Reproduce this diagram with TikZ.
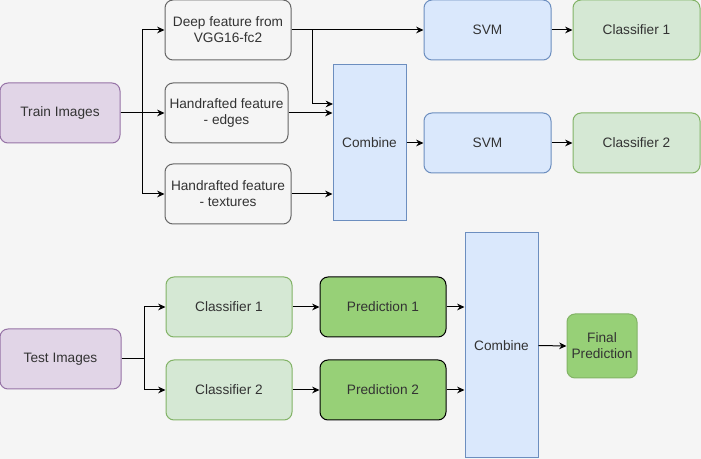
\documentclass[tikz,border=0pt]{standalone}
\usepackage{fontspec}
\setmainfont{Liberation Sans}
\usetikzlibrary{arrows.meta}
\definecolor{bgc}{HTML}{F5F5F5}
\definecolor{purpf}{HTML}{E1D5E7}
\definecolor{purpd}{HTML}{9673A6}
\definecolor{bluef}{HTML}{DAE8FC}
\definecolor{blued}{HTML}{6C8EBF}
\definecolor{greenf}{HTML}{D5E8D4}
\definecolor{greend}{HTML}{82B366}
\definecolor{predf}{HTML}{97D077}
\definecolor{grayd}{HTML}{666666}
\definecolor{txt}{HTML}{333333}
\begin{document}
\begin{tikzpicture}[x=0.75pt,y=-0.75pt,line width=0.75pt,
    font=\fontsize{10.25}{12}\selectfont,text=txt,
    box/.style={draw,rounded corners=6pt,align=center,inner sep=0pt,minimum height=45pt},
    imgbox/.style={box,fill=purpf,draw=purpd,minimum width=90pt},
    featbox/.style={box,fill=bgc,draw=grayd},
    svmbox/.style={box,fill=bluef,draw=blued,minimum width=95.25pt},
    clsbox/.style={box,fill=greenf,draw=greend,minimum width=95.25pt},
    predbox/.style={box,fill=predf,draw=black,minimum width=94.5pt},
    combbox/.style={draw=blued,fill=bluef,minimum width=54.75pt,inner sep=0pt},
    arr/.style={-{Stealth[length=5.5pt,width=5pt]}}]
    \fill[bgc] (0,0) rectangle (701,459);
    \useasboundingbox (0,0) rectangle (701,459);
    %% training
    \node[imgbox] (train) at (60,113) {Train Images};
    \node[featbox,minimum width=94.5pt] (deep) at (228,30) {Deep feature from\\VGG16-fc2};
    \node[featbox,minimum width=92.25pt] (edges) at (226.5,113) {Handrafted feature\\- edges};
    \node[featbox,minimum width=94.5pt] (tex) at (228,194) {Handrafted feature\\- textures};
    \node[combbox,minimum height=117pt] (comb1) at (369.5,143) {Combine};
    \node[svmbox] (svm1) at (487.5,30) {SVM};
    \node[svmbox] (svm2) at (487.5,143) {SVM};
    \node[clsbox] (cls1) at (636.5,30) {Classifier 1};
    \node[clsbox] (cls2) at (636.5,143) {Classifier 2};
    \coordinate (c1in) at (333,104);
    \draw[arr] (train.east) -- ++(22,0) |- (deep.west);
    \draw[arr] (train.east) -- ++(22,0) |- (tex.west);
    \draw[arr] (train.east) -- (edges.west);
    \draw[arr] (deep.east) -- (svm1.west);
    \draw[arr] (deep.east) ++(21,0) |- (c1in);
    \draw[arr] (edges.east) -- (edges.east -| comb1.west);
    \draw[arr] (tex.east) -- (tex.east -| comb1.west);
    \draw[arr] (comb1.east) -- (svm2.west);
    \draw[arr] (svm1.east) -- (cls1.west);
    \draw[arr] (svm2.east) -- (cls2.west);
    %% testing
    \node[imgbox,minimum width=90.75pt] (test) at (60.5,359) {Test Images};
    \node[clsbox,minimum width=94.5pt] (tcls1) at (229,307) {Classifier 1};
    \node[clsbox,minimum width=94.5pt] (tcls2) at (229,390) {Classifier 2};
    \node[predbox] (pred1) at (383,307) {Prediction 1};
    \node[predbox] (pred2) at (383,390) {Prediction 2};
    \node[combbox,minimum height=168.75pt] (comb2) at (501.5,345.5) {Combine};
    \node[box,fill=predf,draw=greend,minimum width=52.5pt,minimum height=48pt] (final) at (602,346) {Final\\Prediction};
    \draw[arr] (test.east) -- ++(23,0) |- (tcls1.west);
    \draw[arr] (test.east) -- ++(23,0) |- (tcls2.west);
    \draw[arr] (tcls1.east) -- (pred1.west);
    \draw[arr] (tcls2.east) -- (pred2.west);
    \draw[arr] (pred1.east) -- (pred1.east -| comb2.west);
    \draw[arr] (pred2.east) -- (pred2.east -| comb2.west);
    \draw[arr] (comb2.east) -- (final.west);
\end{tikzpicture}
\end{document}
